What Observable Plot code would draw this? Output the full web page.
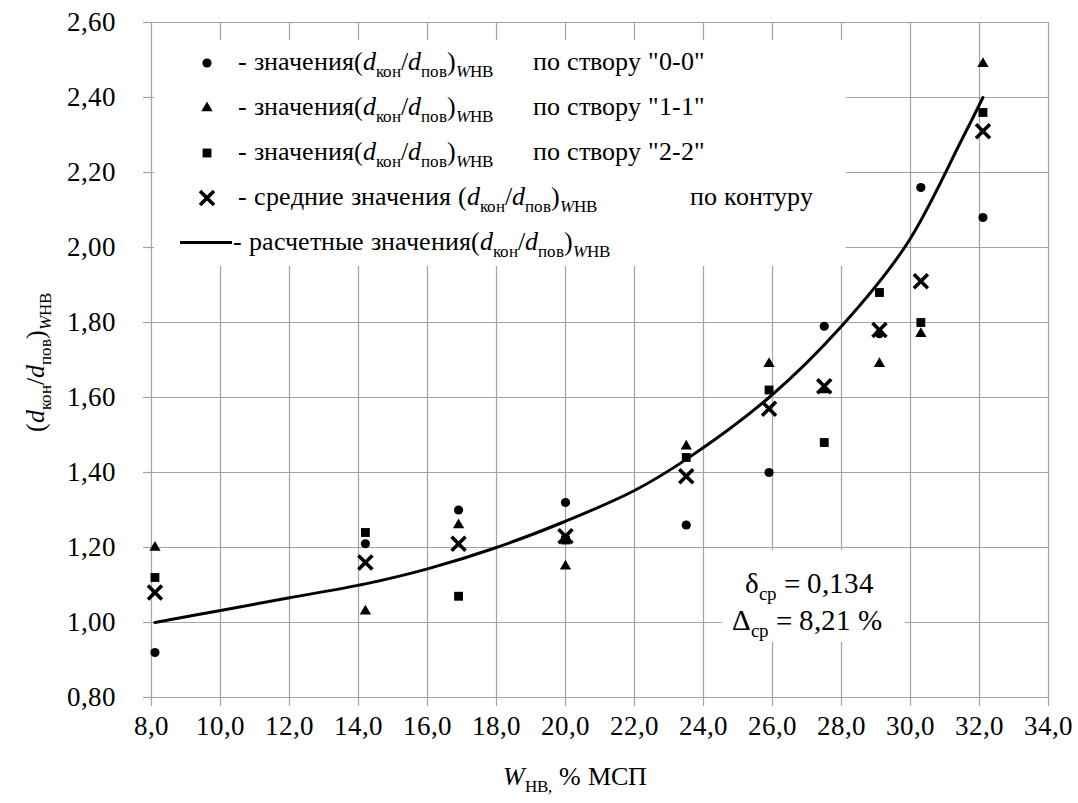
<!DOCTYPE html>
<html><head><meta charset="utf-8">
<script src="https://cdn.jsdelivr.net/npm/d3@7"></script>
<script src="https://cdn.jsdelivr.net/npm/@observablehq/plot@0.6"></script>
<style>
@font-face{font-family:"RefSerif";src:local("Liberation Serif"),local("LiberationSerif"),local("Tinos"),local("Times New Roman");font-style:normal;font-weight:400;}
@font-face{font-family:"RefSerif";src:local("Liberation Serif Italic"),local("LiberationSerif-Italic"),local("Tinos Italic"),local("Times New Roman Italic");font-style:italic;font-weight:400;}
@font-face{font-family:"Liberation Sans";src:local("Liberation Serif"),local("LiberationSerif");font-style:normal;font-weight:400;}
@font-face{font-family:"Liberation Sans";src:local("Liberation Serif Italic"),local("LiberationSerif-Italic");font-style:italic;font-weight:400;}
@font-face{font-family:"Arial";src:local("Liberation Serif"),local("LiberationSerif");font-style:normal;font-weight:400;}
@font-face{font-family:"Arial";src:local("Liberation Serif Italic"),local("LiberationSerif-Italic");font-style:italic;font-weight:400;}
@font-face{font-family:"Helvetica";src:local("Liberation Serif"),local("LiberationSerif");font-style:normal;font-weight:400;}
@font-face{font-family:"Helvetica";src:local("Liberation Serif Italic"),local("LiberationSerif-Italic");font-style:italic;font-weight:400;}
body{margin:0;background:#fff;}
#wrap{position:relative;width:1078px;height:803px;font-family:"RefSerif","Liberation Serif",serif;color:#000;}
#wrap svg text, #wrap svg tspan{font-family:"RefSerif","Liberation Serif",serif;}
.t{position:absolute;white-space:nowrap;line-height:1;font-family:"RefSerif","Liberation Serif",serif;}
.s{position:relative;top:7px;font-size:17px;}
.box{position:absolute;background:#fff;}
</style></head><body><div id="wrap"></div>
<script>
// ---- data ----
const wValues    = [8.1, 14.2, 16.9, 20.0, 23.5, 25.9, 27.5, 29.1, 30.3, 32.1];
const series00   = [0.92, 1.21, 1.30, 1.32, 1.26, 1.40, 1.79, 1.77, 2.16, 2.08];
const series11   = [1.20, 1.03, 1.26, 1.15, 1.47, 1.69, 1.62, 1.69, 1.77, 2.49];
const series22   = [1.12, 1.24, 1.07, 1.22, 1.44, 1.62, 1.48, 1.88, 1.80, 2.36];
const seriesMean = [1.08, 1.16, 1.21, 1.23, 1.39, 1.57, 1.63, 1.78, 1.91, 2.31];
const calcW = [8.1, 10.0, 12.0, 14.2, 16.0, 18.0, 20.0, 22.0, 23.5, 25.9, 28.0, 29.9, 31.5, 32.1];
const calcR = [1.00, 1.032, 1.066, 1.103, 1.143, 1.20, 1.27, 1.352, 1.435, 1.60, 1.79, 2.01, 2.29, 2.40];
const xTicks = [8, 10, 12, 14, 16, 18, 20, 22, 24, 26, 28, 30, 32, 34];
const yTicks = [0.8, 1.0, 1.2, 1.4, 1.6, 1.8, 2.0, 2.2, 2.4, 2.6];
const legendLead = ["- значения", "- значения", "- значения", "- средние значения ", "- расчетные значения"];
const legendTexts = ["по створу \"0-0\"", "по створу \"1-1\"", "по створу \"2-2\"", "по контуру"];
const statDelta = "0,134";
const statPct = "8,21 %";

const rows = s => wValues.map((w, i) => ({w, v: s[i]}));
const calcRows = calcW.map((w, i) => ({w, v: calcR[i]}));

const GRID = "#a3a3a3";
const FONT = '"RefSerif", "Liberation Serif", serif';

const chart = Plot.plot({
  width: 1078, height: 803,
  marginLeft: 151, marginRight: 30, marginTop: 22, marginBottom: 106,
  style: {fontFamily: FONT, fontSize: "27px", color: "#000", background: "#fff"},
  x: {domain: [8, 34], label: null},
  y: {domain: [0.8, 2.6], label: null},
  marks: [
    Plot.gridX(xTicks, {stroke: GRID, strokeOpacity: 1, strokeWidth: 1.2}),
    Plot.gridY(yTicks, {stroke: GRID, strokeOpacity: 1, strokeWidth: 1.2}),
    Plot.axisX(xTicks, {tickSize: 9, tickPadding: 9, stroke: GRID, strokeWidth: 1.2, fill: "#000",
      tickFormat: d => d.toFixed(1).replace(".", ","), label: null}),
    Plot.axisY(yTicks, {tickSize: 8, tickPadding: 28, stroke: GRID, strokeWidth: 1.2, fill: "#000",
      tickFormat: d => d.toFixed(2).replace(".", ","), label: null}),
    Plot.dot(rows(series00), {x: "w", y: "v", symbol: "circle", r: 4.6, fill: "#000"}),
    Plot.dot(rows(series11), {x: "w", y: "v", symbol: "triangle", r: 4.2, fill: "#000"}),
    Plot.dot(rows(series22), {x: "w", y: "v", symbol: "square", r: 5.0, fill: "#000"}),
    Plot.line(calcRows, {x: "w", y: "v", curve: "catmull-rom", stroke: "#000", strokeWidth: 3}),
    Plot.dot(rows(seriesMean), {x: "w", y: "v", symbol: "times", r: 6.4, stroke: "#000", strokeWidth: 3.6})
  ]
});
const wrap = document.getElementById("wrap");
wrap.appendChild(chart);
d3.select(chart).selectAll("text").attr("font-family", FONT).style("font-family", FONT);

// ---- HTML overlays: white boxes, legend, stats, axis titles ----
function add(cls, x, y, html, extra = "") {
  const d = document.createElement("div");
  d.className = cls;
  d.style.cssText = `left:${x}px;top:${y}px;${extra}`;
  d.innerHTML = html;
  wrap.appendChild(d);
  return d;
}
add("box", 154, 40, "", "width:692px;height:226px;");
add("box", 722, 550, "", "width:183px;height:92px;");

const F = `(<i>d</i><span class="s">кон</span>/<i>d</i><span class="s">пов</span>)<span class="s"><i>W</i>НВ</span>`;
const rowY = [63, 108, 153, 198, 243];

const symSvg = ["<circle cx='10' cy='10' r='4.6' fill='#000'/>",
  "<path d='" + d3.symbol(d3.symbolTriangle, Math.PI * 4.2 * 4.2)() + "' transform='translate(10,10)' fill='#000'/>",
  "<path d='" + d3.symbol(d3.symbolSquare, Math.PI * 25)() + "' transform='translate(10,10)' fill='#000'/>",
  "<path d='" + d3.symbol(d3.symbolTimes, Math.PI * 6.4 * 6.4)() + "' transform='translate(10,10)' stroke='#000' stroke-width='3.6' fill='none'/>"];
for (let i = 0; i < 4; i++) {
  add("t", 197, rowY[i] - 10, `<svg width="20" height="20">${symSvg[i]}</svg>`);
}
add("t", 180, rowY[4] - 2, "", "width:52px;height:3px;background:#000;");

for (let i = 0; i < 5; i++) {
  add("t", i === 4 ? 233 : 238, rowY[i] - 14, legendLead[i] + F, "font-size:26px;");
  if (i < 4) add("t", i === 3 ? 690 : 533, rowY[i] - 14, legendTexts[i], "font-size:26px;");
}

add("t", 745, 569, `δ<span class="s" style="font-size:19px">ср</span> = ${statDelta}`, "font-size:29px;");
add("t", 732, 606, `Δ<span class="s" style="font-size:19px">ср</span> = ${statPct}`, "font-size:29px;");

add("t", 503, 764, `<i>W</i><span class="s">НВ,</span> % МСП`, "font-size:26px;");

add("t", 36, 362, F, "font-size:26px;transform:translate(-50%,-50%) rotate(-90deg);");
</script></body></html>
